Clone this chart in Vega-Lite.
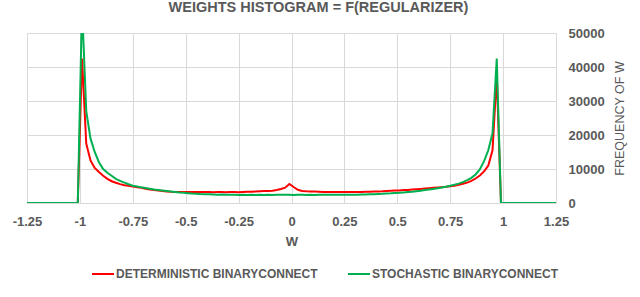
{
  "$schema": "https://vega.github.io/schema/vega-lite/v6.json",
  "width": 529,
  "height": 170,
  "autosize": "none",
  "padding": {"left": 27, "top": 33, "right": 84, "bottom": 94},
  "background": "white",
  "config": {"view": {"stroke": null}, "font": "Liberation Sans"},
  "title": {"text": "WEIGHTS HISTOGRAM = F(REGULARIZER)", "fontSize": 14.5, "fontWeight": "bold", "color": "#595959", "anchor": "middle", "dx": 27, "offset": 12, "font": "Liberation Sans"},
  "data": {"values": [
    {"w": -1.25, "d": 0, "s": 0}, {"w": -1.23, "d": 0, "s": 0}, {"w": -1.21, "d": 0, "s": 0}, {"w": -1.19, "d": 0, "s": 0},
    {"w": -1.17, "d": 0, "s": 0}, {"w": -1.15, "d": 0, "s": 0}, {"w": -1.13, "d": 0, "s": 0}, {"w": -1.11, "d": 0, "s": 0},
    {"w": -1.09, "d": 0, "s": 0}, {"w": -1.07, "d": 0, "s": 0}, {"w": -1.05, "d": 0, "s": 0}, {"w": -1.03, "d": 0, "s": 0},
    {"w": -1.01, "d": 0, "s": 0},
    {"w": -0.99, "d": 42500, "s": 58000},
    {"w": -0.97, "d": 17500, "s": 27000},
    {"w": -0.95, "d": 12500, "s": 19000},
    {"w": -0.93, "d": 10300, "s": 15000},
    {"w": -0.91, "d": 9100, "s": 12000},
    {"w": -0.89, "d": 8000, "s": 10000},
    {"w": -0.87, "d": 7100, "s": 8900},
    {"w": -0.85, "d": 6400, "s": 8000},
    {"w": -0.83, "d": 5950, "s": 7100},
    {"w": -0.81, "d": 5550, "s": 6500},
    {"w": -0.79, "d": 5250, "s": 6000},
    {"w": -0.77, "d": 5050, "s": 5500},
    {"w": -0.75, "d": 4850, "s": 5100},
    {"w": -0.73, "d": 4650, "s": 4850},
    {"w": -0.71, "d": 4450, "s": 4600},
    {"w": -0.69, "d": 4200, "s": 4400},
    {"w": -0.67, "d": 3950, "s": 4200},
    {"w": -0.65, "d": 3800, "s": 4000},
    {"w": -0.63, "d": 3650, "s": 3850},
    {"w": -0.61, "d": 3500, "s": 3700},
    {"w": -0.59, "d": 3400, "s": 3550},
    {"w": -0.57, "d": 3300, "s": 3400},
    {"w": -0.55, "d": 3250, "s": 3250},
    {"w": -0.53, "d": 3250, "s": 3100},
    {"w": -0.51, "d": 3200, "s": 3000},
    {"w": -0.49, "d": 3250, "s": 2900},
    {"w": -0.47, "d": 3200, "s": 2800},
    {"w": -0.45, "d": 3200, "s": 2750},
    {"w": -0.43, "d": 3250, "s": 2650},
    {"w": -0.41, "d": 3200, "s": 2600},
    {"w": -0.39, "d": 3200, "s": 2550},
    {"w": -0.37, "d": 3150, "s": 2500},
    {"w": -0.35, "d": 3200, "s": 2450},
    {"w": -0.33, "d": 3200, "s": 2500},
    {"w": -0.31, "d": 3150, "s": 2400},
    {"w": -0.29, "d": 3200, "s": 2450},
    {"w": -0.27, "d": 3200, "s": 2400},
    {"w": -0.25, "d": 3150, "s": 2350},
    {"w": -0.23, "d": 3250, "s": 2450},
    {"w": -0.21, "d": 3300, "s": 2350},
    {"w": -0.19, "d": 3300, "s": 2400},
    {"w": -0.17, "d": 3400, "s": 2350},
    {"w": -0.15, "d": 3450, "s": 2400},
    {"w": -0.13, "d": 3500, "s": 2350},
    {"w": -0.11, "d": 3550, "s": 2400},
    {"w": -0.09, "d": 3600, "s": 2350},
    {"w": -0.07, "d": 3800, "s": 2400},
    {"w": -0.05, "d": 4100, "s": 2400},
    {"w": -0.03, "d": 4500, "s": 2400},
    {"w": -0.01, "d": 5600, "s": 2400},
    {"w": 0.01, "d": 4700, "s": 2350},
    {"w": 0.03, "d": 3900, "s": 2400},
    {"w": 0.05, "d": 3550, "s": 2400},
    {"w": 0.07, "d": 3450, "s": 2350},
    {"w": 0.09, "d": 3400, "s": 2400},
    {"w": 0.11, "d": 3350, "s": 2350},
    {"w": 0.13, "d": 3300, "s": 2400},
    {"w": 0.15, "d": 3250, "s": 2450},
    {"w": 0.17, "d": 3250, "s": 2400},
    {"w": 0.19, "d": 3200, "s": 2400},
    {"w": 0.21, "d": 3250, "s": 2450},
    {"w": 0.23, "d": 3200, "s": 2400},
    {"w": 0.25, "d": 3250, "s": 2450},
    {"w": 0.27, "d": 3200, "s": 2400},
    {"w": 0.29, "d": 3250, "s": 2450},
    {"w": 0.31, "d": 3200, "s": 2450},
    {"w": 0.33, "d": 3250, "s": 2500},
    {"w": 0.35, "d": 3300, "s": 2500},
    {"w": 0.37, "d": 3300, "s": 2550},
    {"w": 0.39, "d": 3350, "s": 2600},
    {"w": 0.41, "d": 3400, "s": 2650},
    {"w": 0.43, "d": 3450, "s": 2700},
    {"w": 0.45, "d": 3550, "s": 2800},
    {"w": 0.47, "d": 3600, "s": 2850},
    {"w": 0.49, "d": 3650, "s": 2950},
    {"w": 0.51, "d": 3700, "s": 3000},
    {"w": 0.53, "d": 3800, "s": 3100},
    {"w": 0.55, "d": 3850, "s": 3200},
    {"w": 0.57, "d": 3950, "s": 3300},
    {"w": 0.59, "d": 4050, "s": 3450},
    {"w": 0.61, "d": 4150, "s": 3600},
    {"w": 0.63, "d": 4250, "s": 3800},
    {"w": 0.65, "d": 4350, "s": 3950},
    {"w": 0.67, "d": 4450, "s": 4150},
    {"w": 0.69, "d": 4550, "s": 4350},
    {"w": 0.71, "d": 4650, "s": 4550},
    {"w": 0.73, "d": 4750, "s": 4800},
    {"w": 0.75, "d": 4900, "s": 5050},
    {"w": 0.77, "d": 5100, "s": 5350},
    {"w": 0.79, "d": 5350, "s": 5700},
    {"w": 0.81, "d": 5650, "s": 6150},
    {"w": 0.83, "d": 6000, "s": 6700},
    {"w": 0.85, "d": 6500, "s": 7400},
    {"w": 0.87, "d": 7200, "s": 8400},
    {"w": 0.89, "d": 8100, "s": 9900},
    {"w": 0.91, "d": 9300, "s": 12300},
    {"w": 0.93, "d": 11000, "s": 15500},
    {"w": 0.95, "d": 15500, "s": 20500},
    {"w": 0.97, "d": 37500, "s": 42500},
    {"w": 0.99, "d": 0, "s": 0},
    {"w": 1.01, "d": 0, "s": 0}, {"w": 1.03, "d": 0, "s": 0}, {"w": 1.05, "d": 0, "s": 0}, {"w": 1.07, "d": 0, "s": 0},
    {"w": 1.09, "d": 0, "s": 0}, {"w": 1.11, "d": 0, "s": 0}, {"w": 1.13, "d": 0, "s": 0}, {"w": 1.15, "d": 0, "s": 0},
    {"w": 1.17, "d": 0, "s": 0}, {"w": 1.19, "d": 0, "s": 0}, {"w": 1.21, "d": 0, "s": 0}, {"w": 1.23, "d": 0, "s": 0},
    {"w": 1.25, "d": 0, "s": 0}
  ]},
  "transform": [{"fold": ["d", "s"], "as": ["series", "freq"]}],
  "mark": {"type": "line", "strokeWidth": 2, "clip": true},
  "encoding": {
    "x": {
      "field": "w", "type": "quantitative",
      "scale": {"domain": [-1.25, 1.25], "nice": false, "zero": false},
      "axis": {
        "values": [-1.25, -1, -0.75, -0.5, -0.25, 0, 0.25, 0.5, 0.75, 1, 1.25],
        "labelExpr": "'' + datum.value",
        "labelFlush": false,
        "title": "W",
        "grid": true, "gridColor": "#d9d9d9", "gridWidth": 1,
        "domain": false, "ticks": false,
        "labelPadding": 12, "labelFontSize": 13, "labelFontWeight": "bold", "labelColor": "#595959",
        "titleFontSize": 13, "titleFontWeight": "bold", "titleColor": "#595959", "titlePadding": 7
      }
    },
    "y": {
      "field": "freq", "type": "quantitative",
      "scale": {"domain": [0, 50000], "nice": false},
      "axis": {
        "orient": "right",
        "values": [0, 10000, 20000, 30000, 40000, 50000],
        "format": "d",
        "title": "FREQUENCY OF W",
        "titleAngle": 270,
        "titleBaseline": "top",
        "grid": true, "gridColor": "#d9d9d9", "gridWidth": 1,
        "domain": false, "ticks": false,
        "labelPadding": 12, "labelFontSize": 13, "labelFontWeight": "bold", "labelColor": "#595959",
        "titleFontSize": 12.5, "titleFontWeight": "normal", "titleColor": "#595959", "titlePadding": 9
      }
    },
    "color": {
      "field": "series", "type": "nominal",
      "scale": {"domain": ["d", "s"], "range": ["#ff0000", "#00b050"]},
      "legend": {
        "title": null,
        "orient": "none",
        "legendX": 64,
        "legendY": 229,
        "direction": "horizontal",
        "symbolType": "stroke",
        "symbolSize": 484,
        "symbolStrokeWidth": 2,
        "labelExpr": "datum.label == 'd' ? 'DETERMINISTIC BINARYCONNECT' : 'STOCHASTIC BINARYCONNECT'",
        "labelFontSize": 12,
        "labelFontWeight": "bold",
        "labelColor": "#595959",
        "labelOffset": 1,
        "columnPadding": 26,
        "labelLimit": 400
      }
    }
  }
}
